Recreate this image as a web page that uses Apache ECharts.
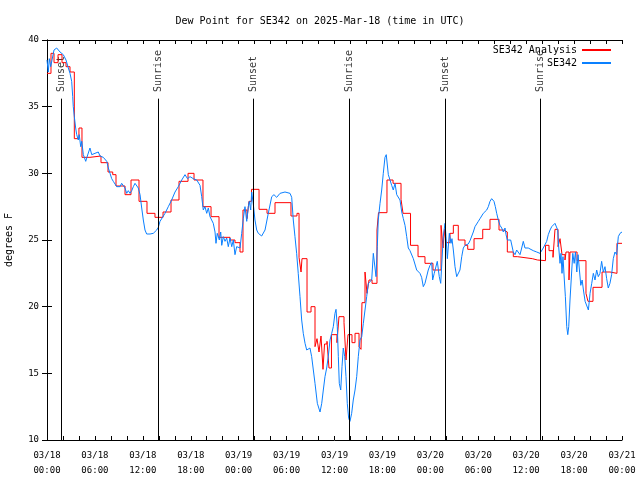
<!DOCTYPE html>
<html>
<head>
<meta charset="utf-8">
<script src="https://cdn.jsdelivr.net/npm/echarts@6/dist/echarts.min.js"></script>
<style>html,body{margin:0;padding:0;background:#fff}#c{width:640px;height:480px}</style>
</head>
<body>
<div id="c"></div>
<script>
// hours since 2025-03-18 00:00 UTC
const xTickLabels = ['03/18\n00:00','03/18\n06:00','03/18\n12:00','03/18\n18:00','03/19\n00:00','03/19\n06:00','03/19\n12:00','03/19\n18:00','03/20\n00:00','03/20\n06:00','03/20\n12:00','03/20\n18:00','03/21\n00:00'];
const yTicks = [10, 15, 20, 25, 30, 35, 40];

const sunTimes = [1.8, 13.92, 25.84, 37.86, 49.88, 61.77];
const sunLabels = ['Sunset','Sunrise','Sunset','Sunrise','Sunset','Sunrise'];
const sunLineTop = 35.6;
const sunLabelBase = 36.1;

// SE342 Analysis (stepped)
const anaHours = [0,0.5,0.88,1.38,1.88,2.38,2.88,3.42,4.0,4.38,5.38,6.76,7.64,8.23,8.64,9.77,10.52,11.52,12.52,13.52,14.53,15.53,16.53,17.66,18.41,19.53,20.54,21.54,22.92,23.54,24.17,24.54,25.04,25.29,25.61,26.55,27.55,28.55,30.55,31.30,31.56,31.81,31.93,32.56,33.06,33.56,33.81,34.06,34.31,34.56,34.75,35.06,35.31,35.62,36.31,36.56,37.19,37.44,37.69,38.19,38.57,39.07,39.32,39.44,39.82,40.07,40.32,40.70,41.32,41.51,42.57,43.33,44.33,44.58,45.52,46.46,47.33,48.33,49.34,49.59,49.77,49.96,50.46,50.88,51.50,52.34,52.68,53.47,54.56,55.47,56.60,57.14,57.64,58.39,58.89,60.77,61.42,62.42,62.86,63.36,63.61,63.99,64.24,64.49,64.86,64.99,65.36,65.49,66.37,67.49,67.74,68.37,69.50,70.50,71.37,72];
const anaValues = [37.5,39.0,38.3,38.9,38.3,38.0,37.6,32.6,33.4,31.2,31.3,30.8,30.1,29.9,29.05,28.4,29.5,27.9,27.0,26.7,27.1,28.0,29.4,30.0,29.5,27.5,26.75,25.2,25.0,24.8,24.1,27.25,26.6,27.9,28.8,27.3,27.0,27.8,26.8,27.0,23.7,22.6,23.6,19.6,20.0,17.0,17.6,16.6,17.8,15.3,17.2,17.4,15.4,17.9,17.3,19.25,18.8,16.0,17.9,17.3,18.0,17.0,16.8,20.3,22.6,21.0,22.0,21.75,25.75,27.05,29.5,29.25,28.05,27.0,24.6,23.75,23.25,22.75,26.1,24.4,25.8,24.8,25.5,26.1,25.0,24.6,24.3,25.1,25.8,26.55,25.75,25.6,24.1,23.75,23.6,23.5,23.45,24.6,24.2,23.7,25.8,24.5,25.1,23.9,23.5,24.1,22.0,24.1,23.45,21.0,20.4,21.45,22.6,22.5,24.75,24.75];

// SE342 observations
const obsHours = [0.0,0.16,0.29,0.46,0.88,1.21,1.63,2.04,2.38,2.67,2.88,3.09,3.22,3.29,3.42,3.59,3.72,3.92,4.04,4.22,4.35,4.55,4.85,5.05,5.38,5.60,5.80,6.01,6.42,6.64,7.05,7.48,7.68,7.89,8.10,8.30,8.51,8.73,8.93,9.14,9.35,9.55,9.77,9.98,10.18,10.39,10.61,10.81,11.02,11.23,11.43,11.65,11.86,12.06,12.27,12.48,12.90,13.31,13.74,13.94,14.15,14.36,14.78,15.19,15.61,16.03,16.44,16.87,17.09,17.28,17.59,17.91,18.32,18.75,19.16,19.37,19.57,19.78,20.0,20.20,20.41,20.82,21.04,21.16,21.32,21.58,21.75,21.88,22.08,22.29,22.50,22.70,22.92,23.13,23.33,23.54,23.75,23.95,24.17,24.38,24.58,24.79,25.01,25.21,25.33,25.51,25.63,25.83,26.04,26.26,26.46,26.67,26.88,27.30,27.71,28.14,28.42,28.76,29.18,29.80,30.43,30.64,30.84,31.05,31.26,31.46,31.68,31.89,32.09,32.31,32.52,32.72,32.93,33.14,33.35,33.56,33.85,34.19,34.40,34.60,34.81,35.02,35.22,35.44,35.65,35.85,36.06,36.19,36.35,36.48,36.60,36.78,36.94,37.10,37.28,37.44,37.60,37.78,37.94,38.15,38.35,38.57,38.78,38.98,39.19,39.41,39.61,39.82,40.03,40.23,40.45,40.66,40.86,41.07,41.20,41.36,41.48,41.70,41.91,42.11,42.32,42.48,42.74,42.95,43.16,43.36,43.58,43.79,43.99,44.20,44.42,44.62,44.83,45.04,45.24,45.45,45.67,45.87,46.08,46.29,46.49,46.70,46.91,47.12,47.33,47.54,47.74,47.96,48.17,48.29,48.49,48.71,48.87,49.12,49.30,49.55,49.62,49.84,49.96,50.13,50.38,50.59,50.71,50.88,51.09,51.30,51.50,51.71,51.93,52.13,52.34,52.55,52.75,52.97,53.18,53.38,53.59,53.81,54.01,54.22,54.43,54.63,54.85,55.06,55.26,55.47,55.68,55.81,55.97,56.14,56.31,56.51,56.72,56.94,57.14,57.35,57.48,57.64,57.85,58.06,58.19,58.39,58.60,58.81,59.02,59.23,59.44,59.64,59.85,60.06,60.26,60.48,60.89,61.32,61.73,61.94,62.14,62.36,62.57,62.77,62.99,63.20,63.40,63.61,63.82,63.95,64.07,64.24,64.36,64.49,64.61,64.78,64.91,65.08,65.21,65.33,65.49,65.71,65.84,66.01,66.17,66.34,66.50,66.67,66.84,67.01,67.17,67.38,67.59,67.79,68.00,68.21,68.41,68.62,68.83,69.03,69.24,69.45,69.66,69.87,70.08,70.28,70.49,70.70,70.91,71.12,71.33,71.54,71.75,72.0];
const obsValues = [38.5,37.6,38.6,38.0,39.25,39.4,39.1,38.9,38.5,37.9,37.5,36.9,35.75,35.0,34.25,33.4,32.9,32.5,32.9,32.0,32.4,31.4,30.9,31.3,31.9,31.4,31.3,31.5,31.6,31.3,31.2,30.9,30.4,30.0,29.6,29.4,29.25,29.0,29.1,29.0,29.25,29.1,28.9,28.5,28.7,28.5,28.7,29.0,29.25,29.1,28.9,28.4,27.4,26.5,25.75,25.45,25.45,25.5,25.75,25.95,26.4,26.5,27.0,27.5,28.0,28.6,29.0,29.5,29.6,29.9,29.6,29.75,29.6,29.5,29.1,28.25,27.25,27.5,27.0,27.4,26.75,26.25,25.6,24.75,25.5,25.0,25.6,24.6,25.25,24.9,25.15,24.5,25.15,24.5,25.0,23.9,24.5,24.6,24.4,25.5,26.6,27.5,26.4,27.5,27.9,27.25,28.6,27.7,26.5,25.75,25.5,25.45,25.3,25.75,27.0,28.25,28.4,28.2,28.5,28.6,28.5,28.2,26.5,25.25,24.0,22.5,20.75,19.0,18.0,17.25,16.75,16.6,16.9,16.25,15.25,14.25,12.75,12.1,12.75,13.75,14.75,15.4,16.25,17.5,18.0,18.5,19.5,19.8,18.5,16.25,14.25,13.75,15.5,16.9,16.25,14.75,12.75,11.6,11.4,12.0,13.0,13.75,14.75,16.25,17.5,17.75,18.75,19.75,20.75,21.75,21.75,22.0,24.0,24.1,22.25,24.5,26.5,27.75,28.75,30.0,31.2,31.4,29.9,29.75,29.1,28.75,29.25,28.4,28.25,28.0,27.1,26.6,26.1,25.25,24.4,24.2,24.3,23.6,23.6,22.75,22.9,22.5,22.2,21.5,21.75,21.6,22.75,23.1,23.3,22.0,22.5,22.6,23.4,22.25,21.75,21.6,25.25,26.25,25.25,23.6,25.5,24.75,25.1,24.25,23.0,22.25,22.25,22.75,23.75,24.4,24.6,24.75,24.7,24.95,25.0,25.6,26.0,26.1,26.4,26.6,26.75,27.0,27.1,27.25,27.5,27.9,28.1,28.2,27.9,27.5,27.0,26.5,26.1,25.9,25.6,25.9,25.4,25.0,25.1,25.0,24.9,24.1,23.9,24.25,24.1,23.9,24.4,24.9,24.4,24.25,24.4,24.3,24.2,24.1,24.0,24.1,24.4,24.5,24.9,25.4,25.75,26.0,26.15,26.25,26.3,25.75,24.5,23.25,24.0,22.5,23.75,22.0,20.75,18.5,17.9,18.5,20.5,22.75,24.0,23.25,24.1,22.6,23.9,22.75,21.6,22.0,21.25,20.4,20.3,19.75,21.0,21.75,22.5,22.0,22.75,22.25,22.5,23.4,22.6,23.0,22.1,21.4,21.75,22.4,23.6,24.1,23.9,25.25,25.5,25.6];

const FONT = 'DejaVu Sans Mono';
const zip = (a, b) => a.map((v, i) => [v, b[i]]);

const chart = echarts.init(document.getElementById('c'), null, {renderer: 'canvas'});
const xBase = {
  type: 'value', min: 0, max: 72, interval: 6,
  axisLine: {show: true, lineStyle: {color: '#000', width: 1}},
  axisTick: {show: true, inside: true, length: 4, lineStyle: {color: '#000'}},
  minorTick: {show: true, splitNumber: 3, length: 4, lineStyle: {color: '#000'}},
  splitLine: {show: false}
};
const yBase = {
  type: 'value', min: 10, max: 40, interval: 5,
  axisLine: {show: true, lineStyle: {color: '#000', width: 1}},
  axisTick: {show: true, inside: true, length: 5, lineStyle: {color: '#000'}},
  splitLine: {show: false}
};
chart.setOption({
  animation: false,
  backgroundColor: '#fff',
  title: {
    text: 'Dew Point for SE342 on 2025-Mar-18 (time in UTC)',
    left: 'center', top: 11,
    textStyle: {fontFamily: FONT, fontSize: 10, fontWeight: 'normal', color: '#000'}
  },
  legend: {
    right: 24, top: 39, orient: 'vertical', align: 'right',
    itemWidth: 29, itemHeight: 2, itemGap: 1,
    textStyle: {fontFamily: FONT, fontSize: 10, color: '#000', lineHeight: 12},
    data: [{name: 'SE342 Analysis', icon: 'rect'}, {name: 'SE342', icon: 'rect'}]
  },
  grid: {left: 47, right: 18, top: 40, bottom: 40, containLabel: false, outerBoundsMode: 'none'},
  xAxis: [
    Object.assign({}, xBase, {
      position: 'bottom',
      axisLabel: {fontFamily: FONT, fontSize: 9, color: '#000', margin: 8, lineHeight: 15,
        formatter: v => xTickLabels[Math.round(v / 6)]}
    }),
    Object.assign({}, xBase, {position: 'top', axisLabel: {show: false}})
  ],
  yAxis: [
    Object.assign({}, yBase, {
      position: 'left',
      name: 'degrees F', nameLocation: 'middle', nameRotate: 90, nameGap: 33,
      nameTextStyle: {fontFamily: FONT, fontSize: 10, color: '#000'},
      axisLabel: {fontFamily: FONT, fontSize: 9, color: '#000', margin: 8,
        formatter: v => (yTicks.indexOf(v) >= 0 ? String(v) : '')}
    }),
    Object.assign({}, yBase, {position: 'right', axisLabel: {show: false}})
  ],
  series: [
    {
      name: 'sun', type: 'scatter', symbolSize: 0, silent: true,
      data: sunTimes.map((t, i) => ({value: [t, sunLabelBase], label: {formatter: sunLabels[i]}})),
      label: {show: true, position: 'inside', rotate: 90, align: 'left', verticalAlign: 'middle',
        fontFamily: FONT, fontSize: 10, color: '#000', distance: 0},
      markLine: {
        silent: true, symbol: ['none', 'none'], label: {show: false},
        lineStyle: {color: '#000', width: 1, type: 'solid'},
        data: sunTimes.map(t => [{coord: [t, sunLineTop]}, {coord: [t, 10]}])
      }
    },
    {
      name: 'SE342 Analysis', type: 'line', step: 'end', symbol: 'none',
      color: '#ff0000', lineStyle: {color: '#ff0000', width: 1},
      data: zip(anaHours, anaValues)
    },
    {
      name: 'SE342', type: 'line', symbol: 'none',
      color: '#0a80ff', lineStyle: {color: '#0a80ff', width: 1},
      data: zip(obsHours, obsValues)
    }
  ]
});
</script>
</body>
</html>
